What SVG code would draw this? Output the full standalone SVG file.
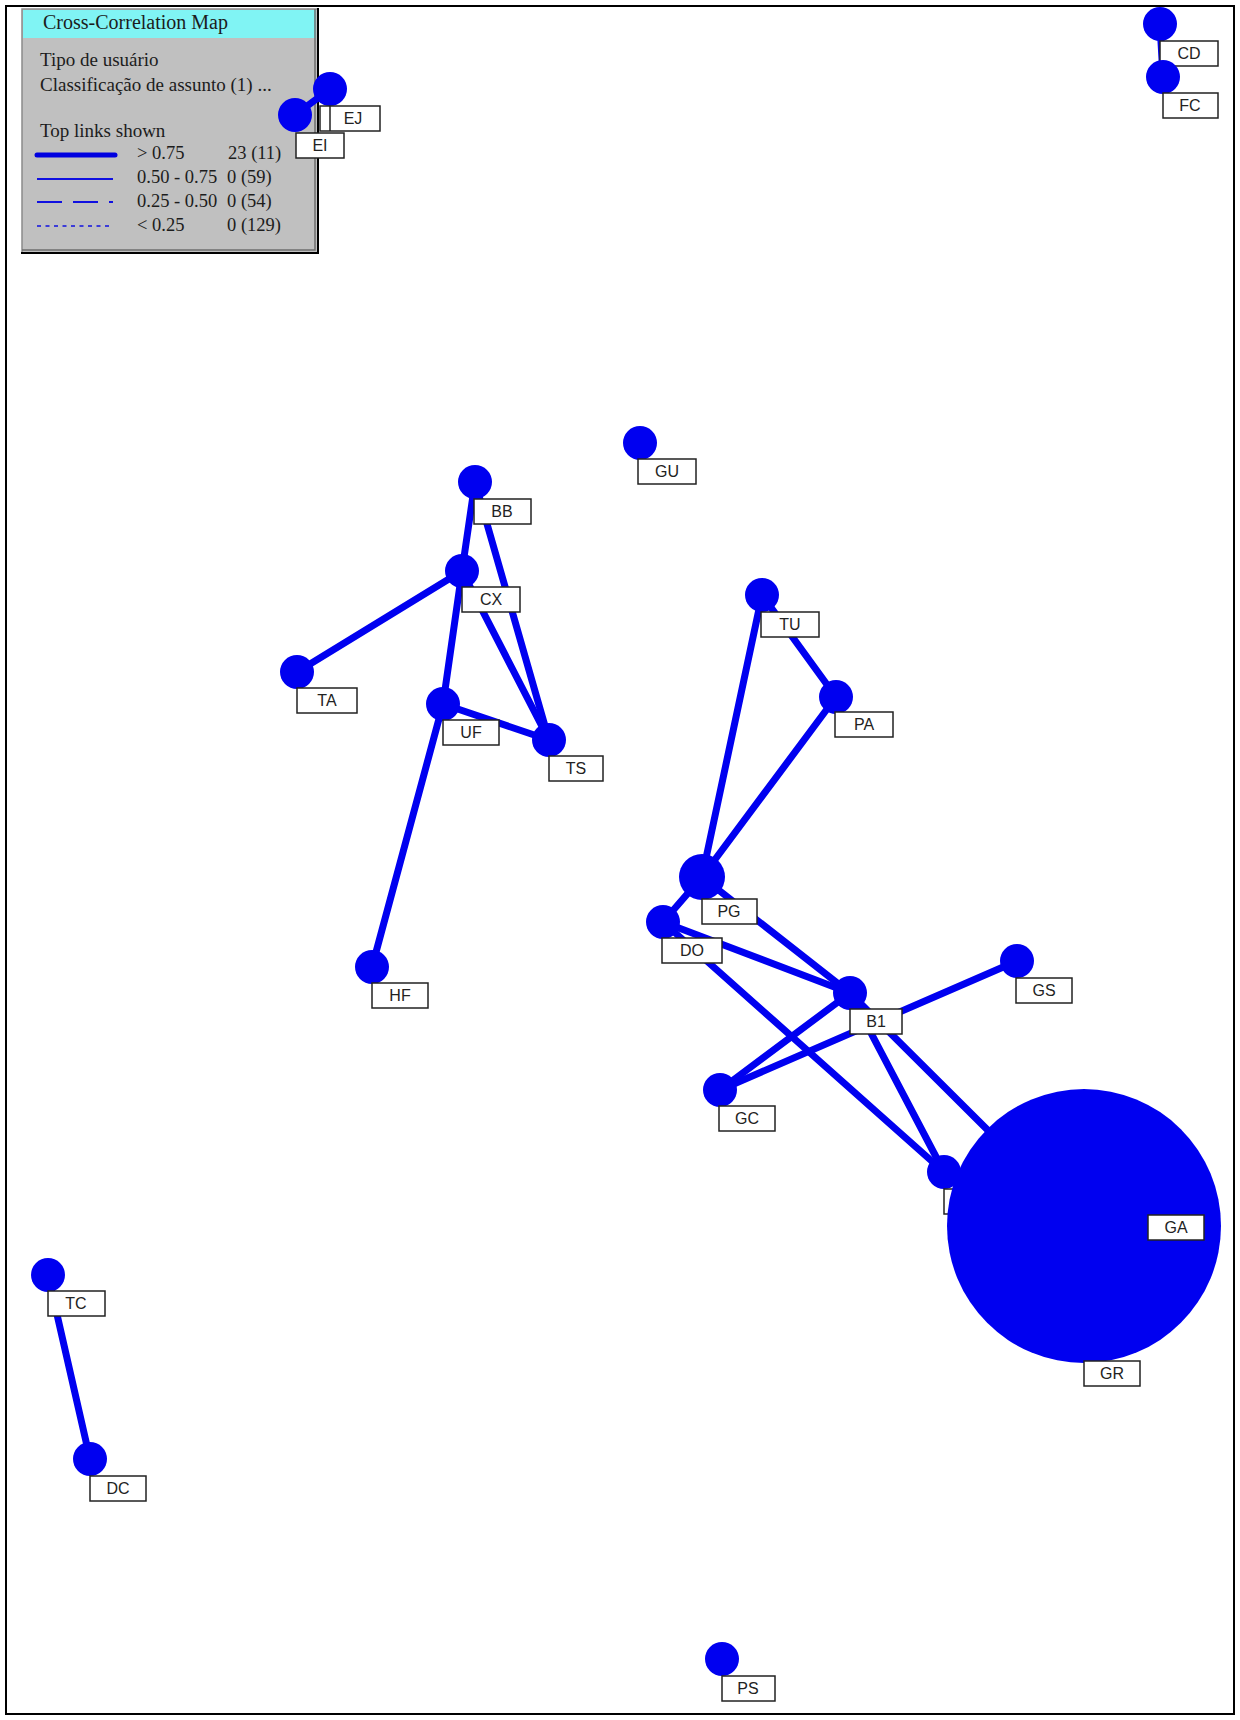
<svg xmlns="http://www.w3.org/2000/svg" width="1240" height="1720" viewBox="0 0 1240 1720">
<style>
.lg{font-family:"Liberation Serif","Times New Roman",serif;font-size:19px;fill:#1c1c1c}
.lr{font-family:"Liberation Serif","Times New Roman",serif;font-size:18.5px;fill:#1c1c1c}
.lt{font-family:"Liberation Serif","Times New Roman",serif;font-size:20px;fill:#1c1c1c}
.n{fill:#0000f0}
.b{fill:#fff;stroke:#222;stroke-width:1.5}
.t{font-family:"Liberation Sans",Arial,sans-serif;font-size:16px;fill:#222;text-anchor:middle}
.e{stroke:#0000f0;stroke-width:7;stroke-linecap:round;fill:none}
</style>
<rect x="0" y="0" width="1240" height="1720" fill="#fff"/>
<rect x="6" y="6" width="1228" height="1708" fill="none" stroke="#000" stroke-width="2"/>

<g id="legend">
<rect x="22" y="9" width="296" height="243" fill="#c0c0c0"/>
<rect x="23" y="10" width="293" height="28" fill="#80f4f4"/>
<path d="M22 252 V9 H318" fill="none" stroke="#8a8a8a" stroke-width="1.5"/>
<path d="M22 250 H315 V9" fill="none" stroke="#6e6e6e" stroke-width="1.5"/>
<path d="M21 253 H318 V8" fill="none" stroke="#000" stroke-width="2"/>
<text class="lt" x="43" y="29">Cross-Correlation Map</text>
<text class="lg" x="40" y="66">Tipo de usuário</text>
<text class="lg" x="40" y="91">Classificação de assunto (1) ...</text>
<text class="lg" x="40" y="137">Top links shown</text>
<line x1="37" y1="155" x2="115" y2="155" stroke="#0000e0" stroke-width="5" stroke-linecap="round"/>
<line x1="37" y1="179" x2="113" y2="179" stroke="#1010e0" stroke-width="2"/>
<line x1="37" y1="202" x2="113" y2="202" stroke="#1010e0" stroke-width="2" stroke-dasharray="25 11"/>
<line x1="37" y1="226" x2="113" y2="226" stroke="#1010e0" stroke-width="1.5" stroke-dasharray="4 4.5"/>
<text class="lr" x="137" y="159">&gt; 0.75</text>
<text class="lr" x="228" y="159">23 (11)</text>
<text class="lr" x="137" y="183">0.50 - 0.75</text>
<text class="lr" x="227" y="183">0 (59)</text>
<text class="lr" x="137" y="207">0.25 - 0.50</text>
<text class="lr" x="227" y="207">0 (54)</text>
<text class="lr" x="137" y="231">&lt; 0.25</text>
<text class="lr" x="227" y="231">0 (129)</text>
</g>

<g id="connectors">
<line class="e" x1="295" y1="115" x2="330" y2="89"/>
<line class="e" x1="1160" y1="24" x2="1163" y2="77"/>
<line class="e" x1="475" y1="482" x2="462" y2="571"/>
<line class="e" x1="475" y1="482" x2="549" y2="740"/>
<line class="e" x1="462" y1="571" x2="297" y2="672"/>
<line class="e" x1="462" y1="571" x2="443" y2="704"/>
<line class="e" x1="462" y1="571" x2="549" y2="740"/>
<line class="e" x1="443" y1="704" x2="549" y2="740"/>
<line class="e" x1="443" y1="704" x2="372" y2="967"/>
<line class="e" x1="762" y1="595" x2="702" y2="877"/>
<line class="e" x1="762" y1="595" x2="836" y2="697"/>
<line class="e" x1="836" y1="697" x2="702" y2="877"/>
<line class="e" x1="702" y1="877" x2="663" y2="922"/>
<line class="e" x1="702" y1="877" x2="850" y2="993"/>
<line class="e" x1="663" y1="922" x2="850" y2="993"/>
<line class="e" x1="663" y1="922" x2="944" y2="1172"/>
<line class="e" x1="850" y1="993" x2="944" y2="1172"/>
<line class="e" x1="850" y1="993" x2="1084" y2="1226"/>
<line class="e" x1="720" y1="1090" x2="850" y2="993"/>
<line class="e" x1="720" y1="1090" x2="1017" y2="961"/>
<line class="e" x1="48" y1="1275" x2="90" y2="1459"/>
</g>

<g id="node-EI"><circle class="n" cx="295" cy="115" r="17"/><rect class="b" x="296" y="133" width="48" height="25"/><text class="t" x="320" y="151">EI</text></g>
<g id="node-EJ"><circle class="n" cx="330" cy="89" r="17"/><rect class="b" x="320" y="106" width="60" height="25"/><line x1="330" y1="106" x2="330" y2="131" stroke="#222" stroke-width="1.5"/><text class="t" x="353" y="124">EJ</text></g>
<g id="node-CD"><circle class="n" cx="1160" cy="24" r="17"/><rect class="b" x="1160" y="41" width="58" height="25"/><text class="t" x="1189" y="59">CD</text></g>
<g id="node-FC"><circle class="n" cx="1163" cy="77" r="17"/><rect class="b" x="1163" y="93" width="55" height="25"/><text class="t" x="1190" y="111">FC</text></g>
<g id="node-GU"><circle class="n" cx="640" cy="443" r="17"/><rect class="b" x="638" y="459" width="58" height="25"/><text class="t" x="667" y="477">GU</text></g>
<g id="node-BB"><circle class="n" cx="475" cy="482" r="17"/><rect class="b" x="474" y="499" width="57" height="25"/><text class="t" x="502" y="517">BB</text></g>
<g id="node-CX"><circle class="n" cx="462" cy="571" r="17"/><rect class="b" x="462" y="587" width="58" height="25"/><text class="t" x="491" y="605">CX</text></g>
<g id="node-TA"><circle class="n" cx="297" cy="672" r="17"/><rect class="b" x="297" y="688" width="60" height="25"/><text class="t" x="327" y="706">TA</text></g>
<g id="node-UF"><circle class="n" cx="443" cy="704" r="17"/><rect class="b" x="443" y="720" width="56" height="25"/><text class="t" x="471" y="738">UF</text></g>
<g id="node-TS"><circle class="n" cx="549" cy="740" r="17"/><rect class="b" x="549" y="756" width="54" height="25"/><text class="t" x="576" y="774">TS</text></g>
<g id="node-HF"><circle class="n" cx="372" cy="967" r="17"/><rect class="b" x="372" y="983" width="56" height="25"/><text class="t" x="400" y="1001">HF</text></g>
<g id="node-TU"><circle class="n" cx="762" cy="595" r="17"/><rect class="b" x="761" y="612" width="58" height="25"/><text class="t" x="790" y="630">TU</text></g>
<g id="node-PA"><circle class="n" cx="836" cy="697" r="17"/><rect class="b" x="835" y="712" width="58" height="25"/><text class="t" x="864" y="730">PA</text></g>
<g id="node-PG"><circle class="n" cx="702" cy="877" r="23"/><rect class="b" x="702" y="899" width="55" height="25"/><text class="t" x="729" y="917">PG</text></g>
<g id="node-DO"><circle class="n" cx="663" cy="922" r="17"/><rect class="b" x="662" y="938" width="60" height="25"/><text class="t" x="692" y="956">DO</text></g>
<g id="node-B1"><circle class="n" cx="850" cy="993" r="17"/><rect class="b" x="850" y="1009" width="52" height="25"/><text class="t" x="876" y="1027">B1</text></g>
<g id="node-GS"><circle class="n" cx="1017" cy="961" r="17"/><rect class="b" x="1016" y="978" width="56" height="25"/><text class="t" x="1044" y="996">GS</text></g>
<g id="node-GC"><circle class="n" cx="720" cy="1090" r="17"/><rect class="b" x="719" y="1106" width="56" height="25"/><text class="t" x="747" y="1124">GC</text></g>
<g id="node-hidden"><circle class="n" cx="944" cy="1172" r="17"/><rect class="b" x="944" y="1189" width="56" height="25"/></g>
<g id="node-GR"><circle class="n" cx="1084" cy="1226" r="137"/><rect class="b" x="1084" y="1361" width="56" height="25"/><text class="t" x="1112" y="1379">GR</text></g>
<g id="node-GA"><circle class="n" cx="1149" cy="1199" r="17"/><rect class="b" x="1148" y="1215" width="56" height="25"/><text class="t" x="1176" y="1233">GA</text></g>
<g id="node-TC"><circle class="n" cx="48" cy="1275" r="17"/><rect class="b" x="48" y="1291" width="57" height="25"/><text class="t" x="76" y="1309">TC</text></g>
<g id="node-DC"><circle class="n" cx="90" cy="1459" r="17"/><rect class="b" x="90" y="1476" width="56" height="25"/><text class="t" x="118" y="1494">DC</text></g>
<g id="node-PS"><circle class="n" cx="722" cy="1659" r="17"/><rect class="b" x="722" y="1676" width="53" height="25"/><text class="t" x="748" y="1694">PS</text></g>
</svg>
